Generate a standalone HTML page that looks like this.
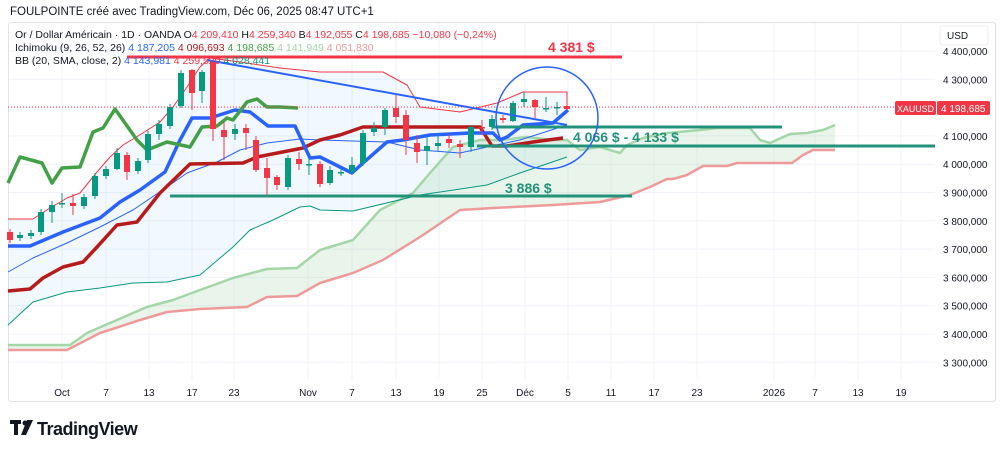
<!DOCTYPE html>
<html><head><meta charset="utf-8"><style>
html,body{margin:0;padding:0;background:#fff;width:1000px;height:450px;overflow:hidden}
svg{display:block;font-family:"Liberation Sans",sans-serif}
</style></head><body>
<svg id="s" width="1000" height="450" viewBox="0 0 1000 450" xmlns="http://www.w3.org/2000/svg">
<text x="10" y="15" font-size="11.5" fill="#131722">FOULPOINTE créé avec TradingView.com, Déc 06, 2025 08:47 UTC+1</text>
<rect x="8.5" y="22.5" width="987" height="379" fill="#fff" stroke="#e0e3eb" rx="3"/>
<g id="grid" stroke="#f0f3fa" stroke-width="1"></g>
<g id="fills"></g>
<g id="lines" fill="none" stroke-linejoin="round"></g>
<g id="candles"></g>
<line x1="8" y1="107" x2="935" y2="107" stroke="#f23645" stroke-width="1" stroke-dasharray="1,2"/>
<line x1="127" y1="57" x2="622" y2="57" stroke="#f23645" stroke-width="3"/>
<text x="548" y="52" font-size="14" font-weight="bold" fill="#f23645">4 381 $</text>
<line x1="207" y1="60" x2="567" y2="125" stroke="#2962ff" stroke-width="2"/>
<line x1="492" y1="127" x2="782" y2="127" stroke="#22927a" stroke-width="3"/>
<line x1="477" y1="146" x2="935" y2="146" stroke="#22927a" stroke-width="3"/>
<line x1="170" y1="196" x2="632" y2="196" stroke="#22927a" stroke-width="3"/>
<text x="573" y="142" font-size="14" font-weight="bold" fill="#22927a">4 066 $ - 4 133 $</text>
<text x="505" y="193" font-size="14" font-weight="bold" fill="#22927a">3 886 $</text>
<circle cx="547" cy="118" r="51" fill="none" stroke="#2962ff" stroke-width="1.5"/>
<g id="axis" font-size="10" fill="#131722"></g>
<rect x="940" y="26" width="48" height="19" rx="3" fill="#fff" stroke="#eee"/>
<text x="947" y="39" font-size="10" fill="#131722">USD</text>
<rect x="895" y="101" width="41" height="14" rx="2" fill="#f23645"/>
<text x="897" y="112" font-size="9.5" fill="#fff" textLength="37" lengthAdjust="spacingAndGlyphs">XAUUSD</text>
<rect x="937" y="101" width="53" height="14" rx="2" fill="#f23645"/>
<text x="941" y="112" font-size="10" fill="#fff">4 198,685</text>
<g font-size="10.5">
<text x="15" y="38" fill="#131722">Or / Dollar Américain · 1D · OANDA  O<tspan fill="#f23645">4 209,410</tspan> H<tspan fill="#f23645">4 259,340</tspan> B<tspan fill="#f23645">4 192,055</tspan> C<tspan fill="#f23645">4 198,685</tspan> <tspan fill="#f23645">−10,080 (−0,24%)</tspan></text>
<text x="15" y="51" fill="#131722">Ichimoku (9, 26, 52, 26) <tspan fill="#2962ff">4 187,205</tspan> <tspan fill="#b71c1c">4 096,693</tspan> <tspan fill="#43a047">4 198,685</tspan> <tspan fill="#a5d6a7">4 141,949</tspan> <tspan fill="#ef9a9a">4 051,830</tspan></text>
<text x="15" y="64" fill="#131722">BB (20, SMA, close, 2) <tspan fill="#2962ff">4 143,981</tspan> <tspan fill="#f23645">4 259,520</tspan> <tspan fill="#089981">4 028,441</tspan></text>
</g>
<g font-size="10" fill="#131722" id="xl"></g>
<rect x="10" y="420" width="11" height="4" fill="#131722"/><rect x="14" y="420" width="4" height="15" fill="#131722"/><circle cx="25" cy="423" r="2.5" fill="#131722"/><polygon points="27,420 33,420 26,435 21,435" fill="#131722"/>
<text x="37" y="435" font-size="18" font-weight="bold" fill="#131722" letter-spacing="-0.5">TradingView</text>
</svg>
<script>
const NS="http://www.w3.org/2000/svg";
function el(p,t,a){const e=document.createElementNS(NS,t);for(const k in a)e.setAttribute(k,a[k]);document.getElementById(p).appendChild(e);return e;}
const xs=[62,106,149,192,234,308,352,396,439,482,525,568,611,654,697,774,815,858,901];
const xt=["Oct","7","13","17","23","Nov","7","13","19","25","Déc","5","11","17","23","2026","7","13","19"];
xs.forEach((x,i)=>{el("grid","line",{x1:x,y1:23,x2:x,y2:380});const t=el("xl","text",{x:x,y:396,"text-anchor":"middle"});t.textContent=xt[i];});
for(let p=4400;p>=3300;p-=100){const y=51+(4400-p)*0.283;el("grid","line",{x1:9,y1:y,x2:935,y2:y});
 if(p!==4200){const t=el("axis","text",{x:943,y:y+4});t.textContent=String(p).replace(/^(\d)/,"$1 ")+",000";}}
function P(a){return a.map(p=>p.join(",")).join(" ");}
const bbU=[[8,219],[33,219],[50,208],[67,198],[80,193],[97,172],[110,157],[123,145],[143,133],[160,122],[173,107],[187,87],[200,67],[210,58],[240,62],[280,68],[320,72],[383,72],[407,85],[420,107],[460,112],[497,103],[523,92],[567,92],[567,107]];
const bbL=[[8,325],[33,302],[67,292],[100,288],[133,283],[167,282],[200,275],[233,247],[250,230],[273,220],[300,207],[310,206],[320,210],[353,211],[420,195],[487,185],[520,173],[567,157]];
const bbM=[[8,272],[33,258],[67,243],[100,227],[133,210],[167,187],[187,173],[217,162],[240,150],[267,143],[300,139],[320,140],[387,142],[420,150],[460,153],[487,147],[520,140],[567,125]];
const sA=[[8,345],[70,345],[87,333],[110,323],[147,307],[173,300],[200,290],[233,278],[267,269],[297,268],[320,250],[353,240],[380,210],[413,193],[430,173],[453,147],[480,140],[500,140],[527,137],[553,140],[567,140],[580,150],[600,147],[620,153],[627,145],[643,138],[667,133],[700,130],[717,128],[750,128],[760,140],[770,143],[790,134],[807,133],[823,130],[835,125]];
const sB=[[8,350],[67,350],[100,333],[140,320],[167,312],[200,309],[247,307],[267,297],[297,296],[320,283],[353,273],[383,260],[420,237],[460,210],[493,208],[553,205],[600,202],[630,195],[650,187],[667,179],[673,179],[687,175],[703,166],[727,166],[737,163],[767,163],[792,163],[803,155],[813,150],[835,150]];
el("fills","polygon",{points:P(bbU.concat(bbL.slice().reverse())),fill:"rgba(33,150,243,0.06)"});
el("fills","polygon",{points:P(sA.concat(sB.slice().reverse())),fill:"rgba(76,175,80,0.12)"});
const L=(pts,c,w)=>el("lines","polyline",{points:P(pts),stroke:c,"stroke-width":w});
L(sB,"#ef9a9a",2.5);L(sA,"#a5d6a7",2.5);
L(bbU,"#f23645",1);L(bbL,"#089981",1);L(bbM,"#2962ff",1);
L([[8,291],[30,289],[43,278],[63,267],[83,262],[97,247],[117,225],[137,222],[160,193],[190,164],[243,163],[257,157],[303,148],[320,140],[340,135],[363,127],[480,127],[492,146],[507,146],[533,142],[563,138]],"#b71c1c",3.5);
L([[8,246],[30,246],[63,232],[100,218],[120,202],[140,190],[165,172],[180,140],[192,118],[210,118],[235,110],[250,112],[268,126],[295,126],[310,158],[320,157],[352,173],[363,163],[387,142],[403,140],[430,135],[470,133],[493,133],[500,140],[507,137],[523,125],[553,123],[568,110]],"#2962ff",3.5);
L([[8,183],[20,157],[42,163],[52,183],[62,168],[80,167],[93,132],[103,128],[115,109],[137,140],[147,150],[167,142],[190,147],[202,127],[217,126],[227,118],[233,120],[247,102],[257,99],[267,107],[280,107],[298,108]],"#43a047",3.5);
const C=[[10,232,240,0],[20,235,238,1],[31,233,236,1],[41,212,232,1],[52,205,212,1,201,223],[62,203,204,1,193,208],[73,203,206,0,194,215],[84,197,206,1],[95,176,196,1],[106,169,176,1],[117,153,169,1,148,170],[127,155,172,0,152,180],[138,161,171,1],[148,134,160,1],[159,124,134,1,120,140],[170,107,126,1],[181,73,106,1,70,108],[192,70,93,0,69,110],[202,72,91,1,70,103],[213,61,129,0,60,141],[224,130,137,0,122,160],[235,129,134,1,124,140],[246,128,133,0,124,150],[256,140,170,0,136,172],[267,168,178,0,158,195],[277,177,185,0,175,190],[288,158,187,1],[299,159,164,0,152,170],[309,164,165,1,158,175],[320,164,184,0],[330,170,183,1,166,185],[341,172,173,1,168,176],[352,165,172,1,157,174],[363,133,163,1],[374,128,132,1,122,136],[385,110,127,1,108,135],[396,108,117,0,95,123],[406,115,140,0,110,155],[417,143,152,0,135,163],[427,146,151,1,137,165],[438,143,146,1,133,152],[449,139,143,0,135,148],[460,144,147,0,140,158],[471,127,147,1,125,152],[482,127,128,0,120,135],[492,119,127,1,115,130],[503,118,120,0,115,123],[513,103,121,1,101,122],[524,99,102,1,92,107],[535,100,107,0,99,118],[546,108,109,1,97,112],[557,107,108,1,102,115],[567,106,109,0,104,110]];
C.forEach(c=>{const col=c[3]?"#089981":"#f23645";const hi=c[4]||c[1]-3,lo=c[5]||c[2]+3;
el("candles","line",{x1:c[0],y1:hi,x2:c[0],y2:lo,stroke:col,"stroke-width":1});
el("candles","rect",{x:c[0]-3,y:c[1],width:6,height:Math.max(1.5,c[2]-c[1]),fill:col});});
</script>
</body></html>
